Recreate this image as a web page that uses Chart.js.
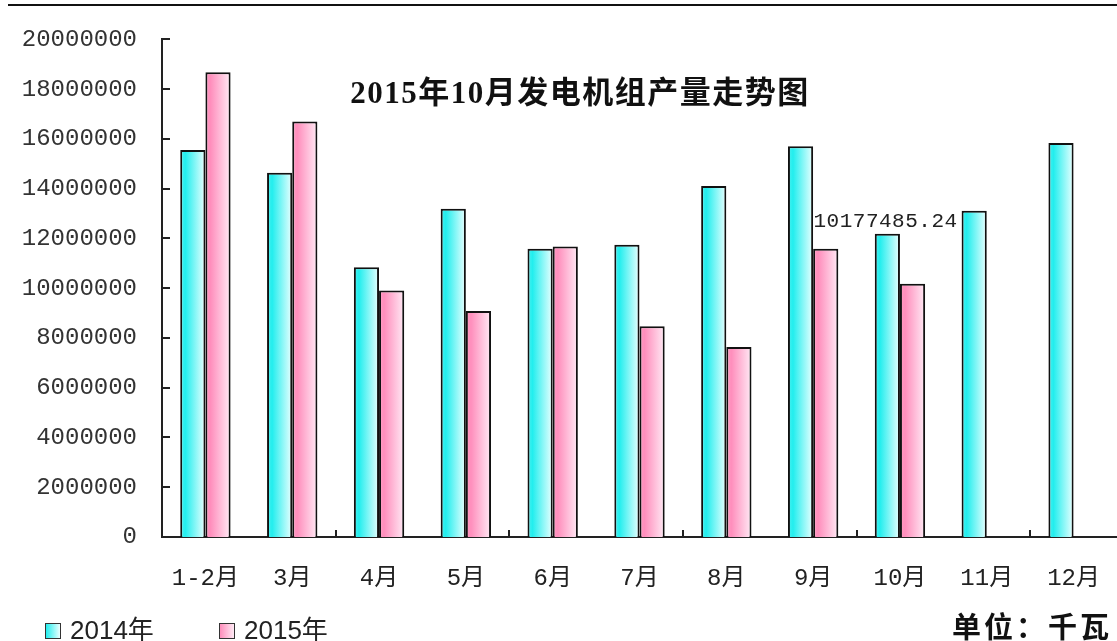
<!DOCTYPE html>
<html>
<head>
<meta charset="utf-8">
<script src="https://cdn.jsdelivr.net/npm/chart.js@4.4.0/dist/chart.umd.min.js"></script>
<style>
  body { margin: 0; background: #fff; }
  #wrap { position: relative; width: 1117px; height: 641px; overflow: hidden; background: #fff; }
  #topline { position: absolute; left: 8px; top: 4px; width: 1109px; height: 2px; background: #111; }
  .leg { position: absolute; top: 609px; height: 30px; line-height: 30px; font: 26px "Liberation Sans", "Noto Sans CJK SC"; color: #222; white-space: nowrap; }
  .leg .box { display: inline-block; width: 14px; height: 14px; border: 1.5px solid #333; vertical-align: middle; margin-right: 9px; margin-top: -3px; }
  .c14 { background: linear-gradient(to right, #22eeee, #eaffff); }
  .c15 { background: linear-gradient(to right, #ff8ebc, #ffeaf5); }
  #unit { position: absolute; left: 952px; top: 604px; font: bold 29px "Noto Sans CJK SC"; letter-spacing: 3px; color: #111; white-space: nowrap; }
</style>
</head>
<body>
<div id="wrap">
  <canvas id="chart" width="1117" height="641"></canvas>
  <div id="topline"></div>
  <div class="leg" style="left:45px"><span class="box c14"></span>2014年</div>
  <div class="leg" style="left:219px"><span class="box c15"></span>2015年</div>
  <div id="unit">单位：千瓦</div>
</div>
<script>
// 数据
const categories = ['1-2月', '3月', '4月', '5月', '6月', '7月', '8月', '9月', '10月', '11月', '12月'];
const seriesNames = ['2014年', '2015年'];
const data2014 = [15550000, 14640000, 10840000, 13190000, 11590000, 11750000, 14110000, 15710000, 12190000, 13110000, 15840000];
const data2015 = [18680000, 16700000, 9910000, 9080000, 11680000, 8470000, 7640000, 11590000, 10177485.24, null, null];
const yTicks = [0, 2000000, 4000000, 6000000, 8000000, 10000000, 12000000, 14000000, 16000000, 18000000, 20000000];
const titleText = '2015年10月发电机组产量走势图';
const labelIndex = 8;

const catPct = 0.58;
const cyanStops = [[0, '#4cefef'], [0.2, '#22eeee'], [1, '#eaffff']];
const pinkStops = [[0, '#ff9cc4'], [0.2, '#ff8ebc'], [1, '#ffeaf5']];

// 每根柱子的横向渐变
function barGradient(c, dsIndex, stops) {
    const chart = c.chart;
    const area = chart.chartArea;
    if (!area || c.type !== 'data') return stops[1][1];
    const catW = (area.right - area.left) / categories.length;
    const barW = catW * catPct / 2;
    const center = chart.scales.x.getPixelForValue(c.dataIndex);
    const left = center - catW * catPct / 2 + dsIndex * barW;
    const g = chart.ctx.createLinearGradient(left, 0, left + barW, 0);
    stops.forEach(s => g.addColorStop(s[0], s[1]));
    return g;
}

// 刻度线（向内）、标题和数据标签
const extras = {
    id: 'extras',
    afterDraw(chart) {
        const { ctx, chartArea, scales } = chart;
        const catW = (chartArea.right - chartArea.left) / categories.length;
        ctx.save();
        ctx.strokeStyle = '#222';
        ctx.lineWidth = 2;
        yTicks.forEach(v => {
            const y = Math.round(scales.y.getPixelForValue(v));
            ctx.beginPath();
            ctx.moveTo(chartArea.left, y);
            ctx.lineTo(chartArea.left + 8, y);
            ctx.stroke();
        });
        for (let k = 2; k < categories.length; k += 2) {
            const x = Math.round(scales.x.getPixelForValue(k) - catW / 2);
            ctx.beginPath();
            ctx.moveTo(x, chartArea.bottom);
            ctx.lineTo(x, chartArea.bottom - 7);
            ctx.stroke();
        }

        ctx.fillStyle = '#111';
        ctx.textAlign = 'center';
        ctx.textBaseline = 'middle';
        ctx.font = 'bold 31px "Liberation Serif", "Noto Sans CJK SC"';
        ctx.letterSpacing = '1.5px';
        ctx.fillText(titleText, 580, 95);

        const bar = chart.getDatasetMeta(1).data[labelIndex];
        ctx.letterSpacing = '0.5px';
        ctx.font = '21px "Liberation Mono"';
        ctx.fillStyle = '#222';
        ctx.fillText(data2015[labelIndex].toFixed(2), bar.x - 27, bar.y - 62);
        ctx.restore();
    }
};

const tickFont = { family: '"Liberation Mono", "Noto Sans CJK SC"', size: 24 };

new Chart(document.getElementById('chart').getContext('2d'), {
    type: 'bar',
    data: {
        labels: categories,
        datasets: [{
            label: seriesNames[0],
            data: data2014,
            backgroundColor: c => barGradient(c, 0, cyanStops)
        }, {
            label: seriesNames[1],
            data: data2015,
            backgroundColor: c => barGradient(c, 1, pinkStops)
        }]
    },
    options: {
        responsive: false,
        animation: false,
        layout: { padding: { left: 0, top: 37, right: 0, bottom: 0 } },
        datasets: {
            bar: {
                categoryPercentage: catPct,
                barPercentage: 1.0,
                borderWidth: 2,
                borderColor: '#111'
            }
        },
        plugins: {
            legend: { display: false },
            title: { display: false },
            tooltip: { enabled: false }
        },
        scales: {
            x: {
                grid: { display: false, drawTicks: false },
                border: { display: true, color: '#222', width: 2 },
                ticks: { font: tickFont, color: '#222', padding: 27, maxRotation: 0, autoSkip: false },
                afterFit: s => { s.height = 104; s.paddingLeft = 0; s.paddingRight = 0; }
            },
            y: {
                min: 0,
                max: 20000000,
                grid: { display: false, drawTicks: false },
                border: { display: true, color: '#222', width: 2 },
                ticks: { font: tickFont, color: '#333', padding: 25, callback: v => String(v) },
                afterBuildTicks: s => { s.ticks = yTicks.map(v => ({ value: v })); },
                afterFit: s => { s.width = 162; }
            }
        }
    },
    plugins: [extras]
});
</script>
</body>
</html>
